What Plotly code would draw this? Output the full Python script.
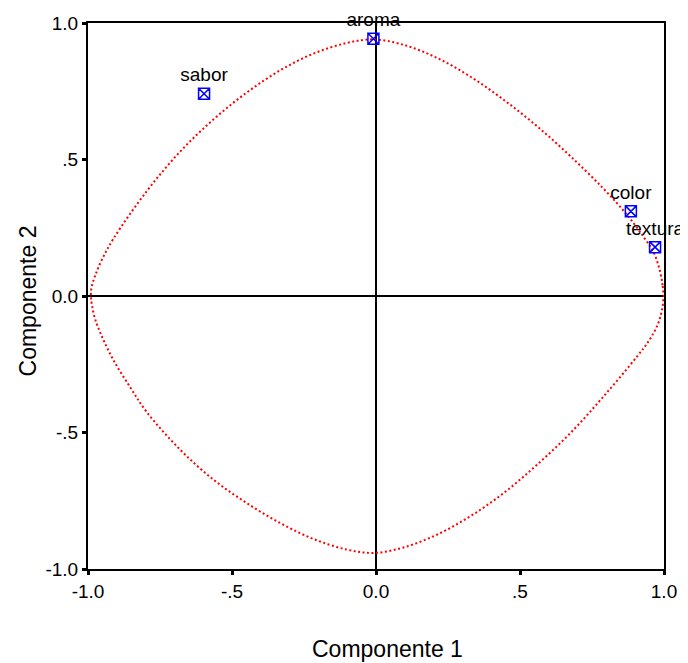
import plotly.graph_objects as go

# Component loadings
variables = ["sabor", "aroma", "color", "textura"]
comp1 = [-0.597, -0.009, 0.885, 0.969]
comp2 = [0.741, 0.942, 0.310, 0.179]

# Reference curve points (going counter-clockwise from the right)
curve_x = [0.998, 0.995, 0.985, 0.964, 0.930, 0.871, 0.790, 0.675, 0.559, 0.443, 0.327, 0.212, 0.096, -0.008,
           -0.101, -0.217, -0.332, -0.448, -0.564, -0.680, -0.796, -0.911, -0.950, -0.975, -0.988, -0.990,
           -0.986, -0.975, -0.951, -0.911, -0.853, -0.796, -0.680, -0.564, -0.448, -0.332, -0.217, -0.101, -0.008,
           0.096, 0.212, 0.327, 0.443, 0.559, 0.675, 0.790, 0.906, 0.950, 0.980, 0.994, 0.998]
curve_y = [0.0, 0.040, 0.095, 0.160, 0.215, 0.298, 0.393, 0.512, 0.622, 0.719, 0.804, 0.872, 0.920, 0.940,
           0.927, 0.888, 0.827, 0.746, 0.647, 0.529, 0.384, 0.211, 0.137, 0.075, 0.030, 0.0,
           -0.035, -0.085, -0.150, -0.236, -0.335, -0.425, -0.563, -0.673, -0.759, -0.832, -0.890, -0.929, -0.941,
           -0.921, -0.874, -0.807, -0.722, -0.618, -0.502, -0.368, -0.222, -0.160, -0.100, -0.045, 0.0]

tick_vals = [-1.0, -0.5, 0.0, 0.5, 1.0]
tick_text = ["-1.0", "-.5", "0.0", ".5", "1.0"]

FONT = "Liberation Sans, Arial, sans-serif"

fig = go.Figure()
fig.add_trace(go.Scatter(
    x=curve_x, y=curve_y, mode="lines",
    line=dict(color="#ff0000", width=2, dash="2px,2.5px", shape="spline", smoothing=1),
    hoverinfo="skip", showlegend=False))
fig.add_trace(go.Scatter(
    x=comp1, y=comp2, mode="markers+text", text=variables,
    textposition="top center",
    textfont=dict(family=FONT, size=19, color="black"),
    marker=dict(symbol="square-x-open", size=11, color="#0000ff",
                line=dict(width=1.5, color="#0000ff")),
    cliponaxis=False, showlegend=False))

axis_common = dict(
    range=[-1, 1], tickvals=tick_vals, ticktext=tick_text,
    showgrid=False, zeroline=True, zerolinecolor="black", zerolinewidth=1.5,
    showline=True, mirror=True, linecolor="black", linewidth=2,
    ticks="outside", ticklen=4, tickwidth=3, tickcolor="black",
    tickfont=dict(family=FONT, size=19, color="black"),
    automargin=False,
)

fig.update_layout(
    width=680, height=655,
    margin=dict(l=80, r=24, t=15, b=94),
    paper_bgcolor="white", plot_bgcolor="white",
    xaxis=axis_common, yaxis=axis_common,
    annotations=[
        dict(text="Componente 1", xref="x", yref="paper", x=0.04, y=0,
             yanchor="middle", xanchor="center", yshift=-80, showarrow=False,
             font=dict(family=FONT, size=23, color="black")),
        dict(text="Componente 2", xref="paper", yref="y", x=0, y=-0.02,
             xanchor="center", yanchor="middle", xshift=-60, textangle=-90,
             showarrow=False, font=dict(family=FONT, size=23, color="black")),
    ],
)

fig.write_html("out.html")
